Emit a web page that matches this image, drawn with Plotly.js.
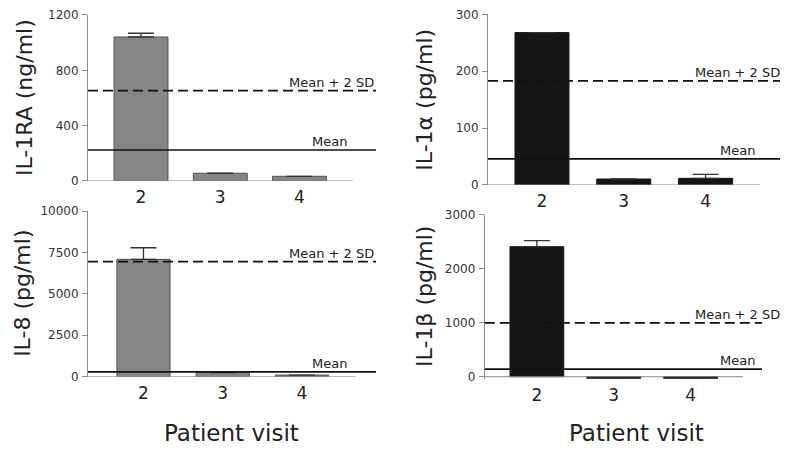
<!DOCTYPE html>
<html>
<head>
<meta charset="utf-8">
<script src="https://cdn.plot.ly/plotly-3.0.1.min.js"></script>
<style>html,body{margin:0;padding:0;background:#fff;}#chart{width:800px;height:449px;}</style>
</head>
<body>
<div id="chart"></div>
<script>
// ---- data ----
var visits = ['2', '3', '4'];

var il1raVals = [1041, 56, 34];
var il1raErr  = [27, 0, 0];
var il1raMean = 224;
var il1raMean2SD = 653;

var il1aVals = [268, 10.5, 11.7];
var il1aErr  = [0, 0, 7];
var il1aMean = 46;
var il1aMean2SD = 183;

var il8Vals = [7085, 250, 100];
var il8Err  = [700, 0, 0];
var il8Mean = 290;
var il8Mean2SD = 6950;

var il1bVals = [2412, -35, -35];
var il1bErr  = [111, 0, 0];
var il1bMean = 140;
var il1bMean2SD = 1000;

var yTitles = ['IL-1RA (ng/ml)', 'IL-1\u03b1 (pg/ml)', 'IL-8 (pg/ml)', 'IL-1\u03b2 (pg/ml)'];
var xTitle = 'Patient visit';
var meanLabel = 'Mean';
var sdLabel = 'Mean + 2 SD';

// ---- styling ----
var FONT = 'DejaVu Sans, Arial, sans-serif';
var GRAY = '#868686', GRAYLINE = '#505050', BLACK = '#151515';
var AXC = '#8a8a8a';

var panels = [
  {vals: il1raVals, err: il1raErr, mean: il1raMean, sd: il1raMean2SD, fill: GRAY, line: GRAYLINE, width: 0.68,
   xr: [-0.669, 2.965], xEnd: 2.675, yr: [0, 1200], tv: [0, 400, 800, 1200],
   xd: [0.11, 0.47], yd: [0.5969, 0.9666], meanX: 0.906, sdX: 1.0, titleX: 25},
  {vals: il1aVals, err: il1aErr, mean: il1aMean, sd: il1aMean2SD, fill: BLACK, line: BLACK, width: 0.66,
   xr: [-0.66, 2.91], xEnd: 2.667, yr: [0, 300], tv: [0, 100, 200, 300],
   xd: [0.61, 0.975], yd: [0.588, 0.968], meanX: 0.921, sdX: 1.006, titleX: 425},
  {vals: il8Vals, err: il8Err, mean: il8Mean, sd: il8Mean2SD, fill: GRAY, line: GRAYLINE, width: 0.67,
   xr: [-0.70, 2.934], xEnd: 2.68, yr: [0, 10000], tv: [0, 2500, 5000, 7500, 10000],
   xd: [0.11, 0.47], yd: [0.161, 0.530], meanX: 0.906, sdX: 1.0, titleX: 23},
  {vals: il1bVals, err: il1bErr, mean: il1bMean, sd: il1bMean2SD, fill: BLACK, line: BLACK, width: 0.7,
   xr: [-0.678, 2.93], xEnd: 2.68, yr: [-40, 3000], tv: [0, 1000, 2000, 3000],
   xd: [0.606, 0.9525], yd: [0.1562, 0.5212], meanX: 0.982, sdX: 1.072, titleX: 425}
];

var data = [], shapes = [], annotations = [];
var layout = {
  width: 800, height: 449,
  margin: {l: 0, r: 0, t: 0, b: 0},
  paper_bgcolor: '#fff', plot_bgcolor: 'rgba(0,0,0,0)',
  showlegend: false,
  font: {family: FONT, color: '#222'}
};

panels.forEach(function (p, i) {
  var n = i + 1;
  var xa = n === 1 ? 'x' : 'x' + n;
  var ya = n === 1 ? 'y' : 'y' + n;
  var xk = n === 1 ? 'xaxis' : 'xaxis' + n;
  var yk = n === 1 ? 'yaxis' : 'yaxis' + n;

  data.push({
    type: 'bar', x: visits, y: p.vals, xaxis: xa, yaxis: ya, width: p.width,
    marker: {color: p.fill, line: {color: p.line, width: 1}},
    error_y: {type: 'data', array: p.err, arrayminus: [0, 0, 0], symmetric: false,
              color: '#333', thickness: 1.3, width: 13, visible: true},
    cliponaxis: true, hoverinfo: 'skip'
  });

  layout[xk] = {
    domain: p.xd, anchor: ya, type: 'category', range: p.xr,
    showline: false, showgrid: false, zeroline: false, ticks: '',
    tickfont: {family: FONT, size: 17, color: '#222'}, ticklabelstandoff: 4, fixedrange: true
  };
  layout[yk] = {
    domain: p.yd, anchor: xa, range: p.yr, tickvals: p.tv, ticktext: p.tv.map(String),
    showline: true, linecolor: AXC, linewidth: 1,
    ticks: 'outside', ticklen: 5, tickcolor: AXC, tickwidth: 1,
    showgrid: false, zeroline: false,
    tickfont: {family: FONT, size: 12, color: '#333'}, ticklabelstandoff: 1, fixedrange: true
  };

  // x axis baseline
  shapes.push({type: 'line', xref: xa, yref: ya, x0: p.xr[0], x1: p.xEnd, y0: 0, y1: 0,
               line: {color: AXC, width: 1}});
  // mean line
  shapes.push({type: 'line', xref: xa + ' domain', yref: ya, x0: 0, x1: 1, y0: p.mean, y1: p.mean,
               line: {color: '#111', width: 1.6}});
  // mean + 2 SD dashed line
  shapes.push({type: 'line', xref: xa + ' domain', yref: ya, x0: 0, x1: 1, y0: p.sd, y1: p.sd,
               line: {color: '#111', width: 1.8, dash: '10px,5px'}});

  annotations.push({xref: xa + ' domain', yref: ya, x: p.meanX, y: p.mean, text: meanLabel,
    showarrow: false, xanchor: 'right', yanchor: 'bottom', yshift: -1,
    font: {family: FONT, size: 13, color: '#222'}});
  annotations.push({xref: xa + ' domain', yref: ya, x: p.sdX, y: p.sd, text: sdLabel,
    showarrow: false, xanchor: 'right', yanchor: 'bottom', yshift: -1,
    font: {family: FONT, size: 13, color: '#222'}});

  // y axis title
  annotations.push({xref: 'paper', yref: ya + ' domain', x: p.titleX / 800, y: 0.5, text: yTitles[i],
    textangle: -90, showarrow: false, xanchor: 'center', yanchor: 'middle',
    font: {family: FONT, size: 22, color: '#222'}});
});

// x titles
annotations.push({xref: 'paper', yref: 'paper', x: 232 / 800, y: 1 - 433 / 449, text: xTitle,
  showarrow: false, xanchor: 'center', yanchor: 'middle', font: {family: FONT, size: 23, color: '#222'}});
annotations.push({xref: 'paper', yref: 'paper', x: 636 / 800, y: 1 - 433 / 449, text: xTitle,
  showarrow: false, xanchor: 'center', yanchor: 'middle', font: {family: FONT, size: 23, color: '#222'}});

layout.shapes = shapes;
layout.annotations = annotations;

Plotly.newPlot('chart', data, layout, {staticPlot: true, displayModeBar: false});
</script>
</body>
</html>
